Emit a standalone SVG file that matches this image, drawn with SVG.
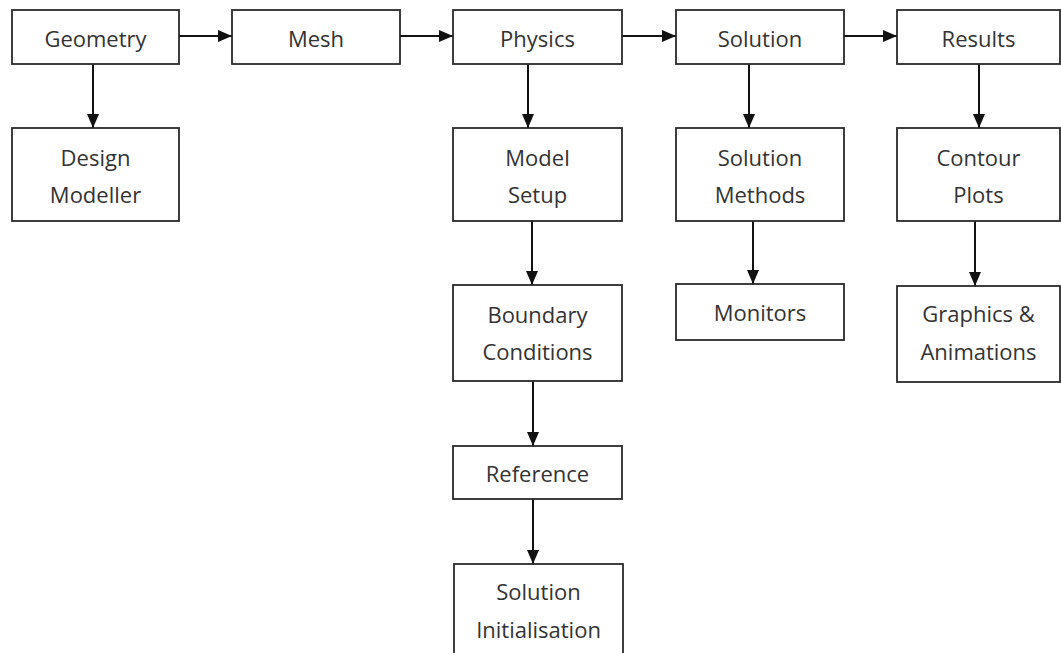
<svg xmlns="http://www.w3.org/2000/svg" width="1061" height="653" viewBox="0 0 1061 653">
<defs>
<style>
.box{fill:#fff;stroke:#2a2a2a;stroke-width:1.8}
.t{font-family:"Open Sans","Liberation Sans",sans-serif;font-size:22px;fill:#333;text-anchor:middle}
.c{stroke:#111;stroke-width:2;fill:none;marker-end:url(#ah)}
</style>
<marker id="ah" viewBox="0 0 14 12" refX="14" refY="6" markerWidth="14" markerHeight="12" markerUnits="userSpaceOnUse" orient="auto">
<path d="M0,0 L14,6 L0,12 Z" fill="#111"/>
</marker>
</defs>
<rect width="1061" height="653" fill="#fff"/>
<g id="connectors">
<line class="c" x1="179" y1="36" x2="232" y2="36"/>
<line class="c" x1="400" y1="36" x2="453" y2="36"/>
<line class="c" x1="622" y1="36" x2="676" y2="36"/>
<line class="c" x1="844" y1="36" x2="897" y2="36"/>
<line class="c" x1="93" y1="64" x2="93" y2="128"/>
<line class="c" x1="528" y1="64" x2="528" y2="128"/>
<line class="c" x1="532" y1="221" x2="532" y2="285"/>
<line class="c" x1="533" y1="381" x2="533" y2="446"/>
<line class="c" x1="533" y1="499" x2="533" y2="564"/>
<line class="c" x1="749" y1="64" x2="749" y2="128"/>
<line class="c" x1="753" y1="221" x2="753" y2="284"/>
<line class="c" x1="979" y1="64" x2="979" y2="128"/>
<line class="c" x1="975" y1="221" x2="975" y2="286"/>
</g>
<g id="geometry"><rect class="box" x="12" y="10" width="167" height="54"/><text class="t" x="95.5" y="47">Geometry</text></g>
<g id="mesh"><rect class="box" x="232" y="10" width="168" height="54"/><text class="t" x="316" y="47">Mesh</text></g>
<g id="physics"><rect class="box" x="453" y="10" width="169" height="54"/><text class="t" x="537.5" y="47">Physics</text></g>
<g id="solution"><rect class="box" x="676" y="10" width="168" height="54"/><text class="t" x="760" y="47">Solution</text></g>
<g id="results"><rect class="box" x="897" y="10" width="163" height="54"/><text class="t" x="978.5" y="47">Results</text></g>
<g id="design-modeller"><rect class="box" x="12" y="128" width="167" height="93"/><text class="t" x="95.5" y="166">Design</text><text class="t" x="95.5" y="203">Modeller</text></g>
<g id="model-setup"><rect class="box" x="453" y="128" width="169" height="93"/><text class="t" x="537.5" y="166">Model</text><text class="t" x="537.5" y="203">Setup</text></g>
<g id="solution-methods"><rect class="box" x="676" y="128" width="168" height="93"/><text class="t" x="760" y="166">Solution</text><text class="t" x="760" y="203">Methods</text></g>
<g id="contour-plots"><rect class="box" x="897" y="128" width="163" height="93"/><text class="t" x="978.5" y="166">Contour</text><text class="t" x="978.5" y="203">Plots</text></g>
<g id="boundary-conditions"><rect class="box" x="453" y="285" width="169" height="96"/><text class="t" x="537.5" y="323">Boundary</text><text class="t" x="537.5" y="360">Conditions</text></g>
<g id="monitors"><rect class="box" x="676" y="284" width="168" height="56"/><text class="t" x="760" y="321">Monitors</text></g>
<g id="graphics-animations"><rect class="box" x="897" y="286" width="163" height="96"/><text class="t" x="978.5" y="322">Graphics &amp;</text><text class="t" x="978.5" y="360">Animations</text></g>
<g id="reference"><rect class="box" x="453" y="446" width="169" height="53"/><text class="t" x="537.5" y="482">Reference</text></g>
<g id="solution-initialisation"><rect class="box" x="454" y="564" width="169" height="100"/><text class="t" x="538.5" y="600">Solution</text><text class="t" x="538.5" y="638">Initialisation</text></g>
</svg>
